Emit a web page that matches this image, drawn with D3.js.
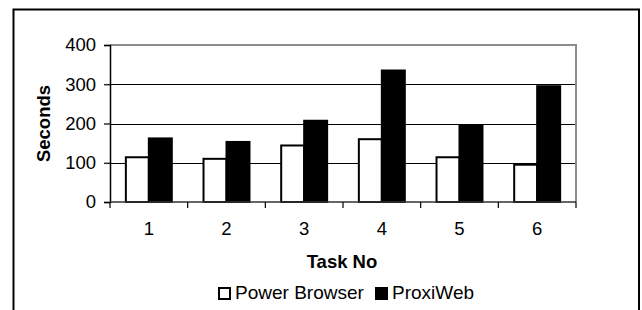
<!DOCTYPE html>
<html>
<head>
<meta charset="utf-8">
<script src="https://cdn.jsdelivr.net/npm/d3@7"></script>
<style>
  body { margin: 0; background: #fff; }
  svg text { font-family: 'Liberation Sans', Arial, sans-serif; fill: #000; }
</style>
</head>
<body>
<div id="chart"></div>
<script>
// chart values
const tasks = ['1', '2', '3', '4', '5', '6']
const seriesNames = ['Power Browser', 'ProxiWeb']
const powerBrowser = [114, 110, 144, 160, 114, 95]
const proxiWeb = [162, 153, 207, 335, 195, 295]
const yTicks = [0, 100, 200, 300, 400]

const width = 642
const height = 310
const plot = { left: 110, right: 576, top: 45, bottom: 202 }
const fills = ['#ffffff', '#000000']

const svg = d3.select('#chart')
  .append('svg')
  .attr('width', width)
  .attr('height', height)

// outer chart frame (bottom edge runs off the picture)
svg.append('rect')
  .attr('x', 13.5)
  .attr('y', 9.5)
  .attr('width', 625.5)
  .attr('height', 320)
  .attr('fill', 'none')
  .attr('stroke', '#000')
  .attr('stroke-width', 2)

const x = d3.scaleBand()
  .domain(tasks)
  .range([plot.left, plot.right])

const inner = d3.scaleBand()
  .domain(seriesNames)
  .range([0, x.bandwidth()])
  .paddingInner(0)
  .paddingOuter(0.69)

const y = d3.scaleLinear()
  .domain([0, 400])
  .range([plot.bottom, plot.top])

// plot border, gray on top and right
svg.append('path')
  .attr('d', `M${plot.left},${plot.top}H${plot.right}V${plot.bottom}`)
  .attr('fill', 'none')
  .attr('stroke', '#8c8c8c')
  .attr('stroke-width', 2)

// gridlines
svg.append('g')
  .selectAll('line')
  .data(yTicks.filter(d => d > 0 && d < 400))
  .join('line')
  .attr('x1', plot.left)
  .attr('x2', plot.right - 1)
  .attr('y1', d => Math.round(y(d)) + 0.5)
  .attr('y2', d => Math.round(y(d)) + 0.5)
  .attr('stroke', '#000')
  .attr('stroke-width', 1.2)

// bars
const data = tasks.map((t, i) => ({ task: t, values: [powerBrowser[i], proxiWeb[i]] }))

const groups = svg.append('g')
  .selectAll('g')
  .data(data)
  .join('g')
  .attr('transform', d => `translate(${x(d.task)},0)`)

groups.selectAll('rect')
  .data(d => d.values.map((v, j) => ({ name: seriesNames[j], value: v, j })))
  .join('rect')
  .attr('x', d => inner(d.name))
  .attr('y', d => y(d.value))
  .attr('width', inner.bandwidth())
  .attr('height', d => plot.bottom - y(d.value))
  .attr('fill', d => fills[d.j])
  .attr('stroke', '#000')
  .attr('stroke-width', 2)

// y axis
const yAxis = svg.append('g')
  .attr('transform', `translate(${plot.left},0)`)
  .call(d3.axisLeft(y).tickValues(yTicks).tickSize(6).tickPadding(8))
yAxis.select('.domain').attr('stroke', '#000').attr('stroke-width', 1.5)
yAxis.selectAll('.tick line').attr('stroke', '#000').attr('stroke-width', 1.2)
yAxis.selectAll('text')
  .style('font-size', '18.5px')
  .attr('fill', '#000')

// x axis with ticks on category boundaries
const boundaries = tasks.map(t => x(t)).concat([plot.right])
svg.append('line')
  .attr('x1', plot.left)
  .attr('x2', plot.right)
  .attr('y1', plot.bottom)
  .attr('y2', plot.bottom)
  .attr('stroke', '#333')
  .attr('stroke-width', 1.5)
svg.append('g')
  .selectAll('line')
  .data(boundaries)
  .join('line')
  .attr('x1', d => d)
  .attr('x2', d => d)
  .attr('y1', plot.bottom)
  .attr('y2', plot.bottom + 6)
  .attr('stroke', '#000')
  .attr('stroke-width', 1.2)

svg.append('g')
  .selectAll('text')
  .data(tasks)
  .join('text')
  .attr('x', d => x(d) + x.bandwidth() / 2)
  .attr('y', 235)
  .attr('text-anchor', 'middle')
  .style('font-size', '18.5px')
  .text(d => d)

// axis titles
svg.append('text')
  .attr('x', 342)
  .attr('y', 268)
  .attr('text-anchor', 'middle')
  .style('font-size', '18.5px')
  .style('font-weight', 'bold')
  .text('Task No')

svg.append('text')
  .attr('transform', `translate(50,${(plot.top + plot.bottom) / 2}) rotate(-90)`)
  .attr('text-anchor', 'middle')
  .style('font-size', '18.5px')
  .style('font-weight', 'bold')
  .text('Seconds')

// legend
const legendItems = [
  { name: seriesNames[0], fill: fills[0], x: 219 },
  { name: seriesNames[1], fill: fills[1], x: 376 }
]
const legend = svg.append('g')
legendItems.forEach(item => {
  legend.append('rect')
    .attr('x', item.x)
    .attr('y', 288)
    .attr('width', 11)
    .attr('height', 11)
    .attr('fill', item.fill)
    .attr('stroke', '#000')
    .attr('stroke-width', 2)
  legend.append('text')
    .attr('x', item.x + 16)
    .attr('y', 299)
    .style('font-size', '19px')
    .text(item.name)
})
</script>
</body>
</html>
